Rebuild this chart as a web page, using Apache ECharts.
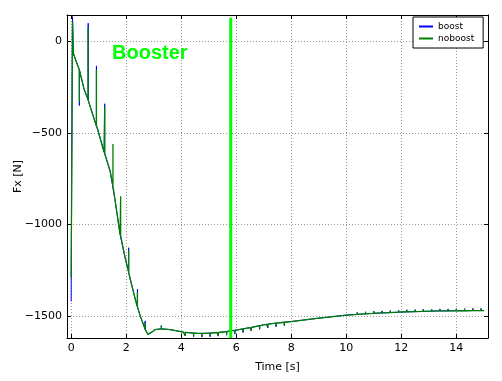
<!DOCTYPE html>
<html><head><meta charset="utf-8">
<script src="https://cdn.jsdelivr.net/npm/echarts@6/dist/echarts.min.js"></script>
<style>html,body{margin:0;padding:0;background:#fff}#c{width:502px;height:381px}</style>
</head><body><div id="c"></div>
<script>
// shared underlying curve (time s, force N)
const baseT = [0.08,0.15,0.33,0.47,0.65,0.96,1.2,1.42,1.6,1.78,1.96,2.15,2.33,2.51,2.69,2.79,2.93,3.05,3.3,3.6,4.08,4.6,5.3,5.8,6.5,7.1,8.0,8.93,10.0,11.0,12.0,13.1,15.0];
const baseV = [-63,-95,-165,-260,-335,-478,-605,-710,-870,-1055,-1180,-1299,-1408,-1499,-1572,-1600,-1588,-1574,-1570,-1574,-1588,-1595,-1590,-1580,-1563,-1545,-1530,-1513,-1495,-1485,-1478,-1473,-1470];

// start points
const blueStartT = [0, 0.05];
const blueStartV = [-1420, 136];
const greenStartT = [0, 0.05];
const greenStartV = [-1290, 110];

// spikes: time, value on curve, tip value
const blueSpikeT   = [0.3, 0.62, 0.92, 1.22, 2.09, 2.41, 2.69, 3.28, 4.15,4.45,4.75,5.05,5.35,5.65,5.95,6.25,6.55,6.85,7.15,7.45,7.75, 10.4,10.7,11.0,11.3,11.6,11.9,12.2,12.5,12.8,13.1,13.4,13.7,14.0,14.3,14.6,14.9];
const blueSpikeBase= [-155,-320,-462,-612,-1260,-1450,-1572,-1570, -1589,-1593,-1595,-1593,-1590,-1585,-1578,-1570,-1562,-1553,-1544,-1539,-1534, -1491,-1488,-1485,-1483,-1481,-1479,-1477,-1476,-1474,-1473,-1472,-1472,-1471,-1471,-1470,-1470];
const blueSpikeTip = [-350,100,-133,-340,-1127,-1354,-1527,-1553, -1609,-1613,-1615,-1613,-1610,-1605,-1598,-1590,-1582,-1573,-1564,-1559,-1554, -1480,-1477,-1474,-1472,-1470,-1468,-1466,-1465,-1463,-1462,-1461,-1461,-1460,-1460,-1459,-1459];

const greenSpikeT   = [0.3, 0.62, 0.92, 1.22, 1.52, 1.8, 2.09, 2.41, 2.69, 3.28, 4.15,4.45,4.75,5.05,5.35,5.65,5.95,6.25,6.55,6.85,7.15,7.45,7.75, 10.4,10.7,11.0,11.3,11.6,11.9,12.2,12.5,12.8,13.1,13.4,13.7,14.0,14.3,14.6,14.9];
const greenSpikeBase= [-155,-320,-462,-612,-790,-1060,-1260,-1450,-1572,-1570, -1589,-1593,-1595,-1593,-1590,-1585,-1578,-1570,-1562,-1553,-1544,-1539,-1534, -1491,-1488,-1485,-1483,-1481,-1479,-1477,-1476,-1474,-1473,-1472,-1472,-1471,-1471,-1470,-1470];
const greenSpikeTip = [-330,75,-155,-355,-560,-845,-1140,-1372,-1536,-1550, -1607,-1611,-1613,-1611,-1608,-1603,-1596,-1588,-1580,-1571,-1562,-1557,-1552, -1480,-1477,-1474,-1472,-1470,-1468,-1466,-1465,-1463,-1462,-1461,-1461,-1460,-1460,-1459,-1459];

// booster cut-off marker
const boosterT = [5.8, 5.8];
const boosterV = [130, -1620];

const xTicks = [0,2,4,6,8,10,12,14];
const yTicks = [-1500,-1000,-500,0];

function build(startT, startV, sT, sB, sTip) {
  const pts = [];
  startT.forEach((t,i)=>pts.push({t, k:0, p:[t,startV[i]]}));
  baseT.forEach((t,i)=>pts.push({t, k:1, p:[t,baseV[i]]}));
  sT.forEach((t,i)=>{
    pts.push({t, k:2, p:[t,sB[i]]});
    pts.push({t, k:3, p:[t,sTip[i]]});
    pts.push({t, k:4, p:[t,sB[i]]});
  });
  pts.sort((a,b)=> a.t-b.t || a.k-b.k);
  return pts.map(o=>o.p);
}

const font = 'DejaVu Sans';
const chart = echarts.init(document.getElementById('c'));
const minus = v => v < 0 ? '\u2212' + Math.abs(v) : String(v);
const gridLine = {show:true, lineStyle:{color:'#999', width:1, type:[1,2]}};
chart.setOption({
  animation:false,
  backgroundColor:'#fff',
  grid:{left:67,right:14,top:15,bottom:43,containLabel:false,outerBoundsMode:'none'},
  legend:{
    orient:'vertical', left:413, top:17, width:70,
    backgroundColor:'#fff', borderColor:'#000', borderWidth:1, borderRadius:0,
    padding:[5,9,5,6], itemGap:3, itemWidth:14, itemHeight:2, icon:'rect',
    textStyle:{fontFamily:font, fontSize:9, color:'#000'},
    data:['boost','noboost']
  },
  xAxis:[{
    type:'value', min:-0.15, max:15.15, name:'Time [s]', nameLocation:'middle', nameGap:24,
    nameMoveOverlap:false,
    nameTextStyle:{fontFamily:font,fontSize:11,color:'#000'},
    axisLine:{show:true,onZero:false,lineStyle:{color:'#000',width:1}},
    axisTick:{show:true,inside:true,length:4,customValues:xTicks,lineStyle:{color:'#000'}},
    axisLabel:{customValues:xTicks,fontFamily:font,fontSize:11,color:'#000',margin:5},
    splitLine:gridLine
  },{
    type:'value', min:-0.15, max:15.15, position:'top',
    axisLine:{show:true,onZero:false,lineStyle:{color:'#000',width:1}},
    axisTick:{show:true,inside:true,length:4,customValues:xTicks,lineStyle:{color:'#000'}},
    axisLabel:{show:false}, splitLine:{show:false}
  }],
  yAxis:[{
    type:'value', min:-1620, max:145, name:'Fx [N]', nameLocation:'middle', nameGap:43, nameRotate:90,
    nameMoveOverlap:false,
    nameTextStyle:{fontFamily:font,fontSize:11,color:'#000'},
    axisLine:{show:true,onZero:false,lineStyle:{color:'#000',width:1}},
    axisTick:{show:true,inside:true,length:4,customValues:yTicks,lineStyle:{color:'#000'}},
    axisLabel:{customValues:yTicks,formatter:minus,fontFamily:font,fontSize:11,color:'#000',margin:5},
    splitLine:gridLine
  },{
    type:'value', min:-1620, max:145, position:'right',
    axisLine:{show:true,onZero:false,lineStyle:{color:'#000',width:1}},
    axisTick:{show:true,inside:true,length:4,customValues:yTicks,lineStyle:{color:'#000'}},
    axisLabel:{show:false}, splitLine:{show:false}
  }],
  graphic:[{
    type:'text', left:112, top:43,
    style:{text:'Booster', fill:'#00ff00', font:'bold 20px "Liberation Sans"'}
  }],
  series:[
    {name:'boost', type:'line', showSymbol:false, symbol:'none', z:2,
     itemStyle:{color:'#0000ff'}, lineStyle:{color:'#0000ff', width:1},
     data: build(blueStartT, blueStartV, blueSpikeT, blueSpikeBase, blueSpikeTip)},
    {name:'noboost', type:'line', showSymbol:false, symbol:'none', z:3,
     itemStyle:{color:'#008000'}, lineStyle:{color:'#008000', width:1.3},
     data: build(greenStartT, greenStartV, greenSpikeT, greenSpikeBase, greenSpikeTip)},
    {name:'cutoff', type:'line', showSymbol:false, symbol:'none', z:4, silent:true,
     lineStyle:{color:'#00ff00', width:3},
     data: boosterT.map((t,i)=>[t, boosterV[i]])}
  ]
});
</script>
</body></html>
